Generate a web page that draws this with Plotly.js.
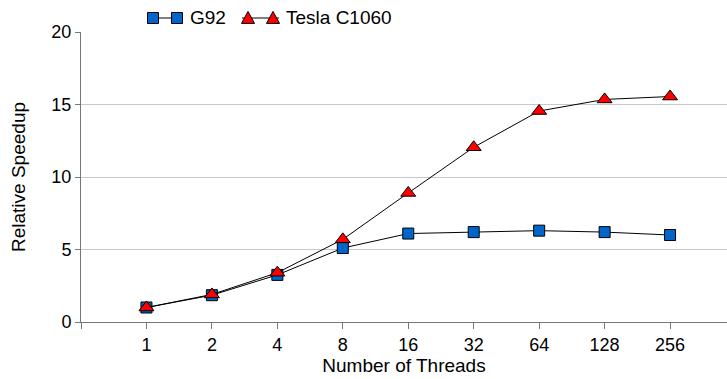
<!DOCTYPE html>
<html>
<head>
<meta charset="utf-8">
<script src="https://cdn.plot.ly/plotly-3.0.1.min.js"></script>
<style>html,body{margin:0;padding:0;background:#fff;}#chart{width:727px;height:379px;}</style>
</head>
<body>
<div id="chart"></div>
<script>
// ---- data ----
const threads = ['1', '2', '4', '8', '16', '32', '64', '128', '256'];
const g92 = [1.0, 1.85, 3.25, 5.1, 6.1, 6.2, 6.3, 6.2, 6.0];
const tesla = [1.0, 1.9, 3.4, 5.7, 8.9, 12.05, 14.55, 15.35, 15.55];
const yTicks = [0, 5, 10, 15, 20];

const xIdx = threads.map((_, i) => i);
const FONT = 'Liberation Sans, Arial, sans-serif';

// plot area in pixels (for the hand-drawn legend)
const L = 81, R = 727, T = 32, B = 322;
const px = v => (v - L) / (R - L);
const py = v => (B - v) / (B - T);

const traces = [
  {
    x: xIdx, y: g92, name: 'G92', type: 'scatter', mode: 'lines+markers',
    line: {color: '#000', width: 1},
    marker: {symbol: 'square', size: 11, color: '#0066cc', line: {color: '#000', width: 1}},
    showlegend: false
  },
  {
    x: xIdx, y: tesla, name: 'Tesla C1060', type: 'scatter', mode: 'lines+markers',
    line: {color: '#000', width: 1},
    marker: {symbol: 'triangle-up', size: 13, color: '#ff0000', line: {color: '#000', width: 1}},
    showlegend: false
  }
];

// legend drawn by hand (two markers joined by a line, like the reference)
const ly = 18;
function sq(cx, cy, h, color) {
  return {type: 'rect', xref: 'paper', yref: 'paper',
    x0: px(cx - h), x1: px(cx + h), y0: py(cy + h), y1: py(cy - h),
    fillcolor: color, line: {color: '#000', width: 1}};
}
function tri(cx, cy, w, h, color) {
  const p = `M ${px(cx - w)} ${py(cy + h * 0.45)} L ${px(cx + w)} ${py(cy + h * 0.45)} L ${px(cx)} ${py(cy - h * 0.55)} Z`;
  return {type: 'path', xref: 'paper', yref: 'paper', path: p,
    fillcolor: color, line: {color: '#000', width: 1}};
}
const shapes = [
  {type: 'line', xref: 'paper', yref: 'paper', x0: px(148), x1: px(182), y0: py(ly), y1: py(ly), line: {color: '#000', width: 1}},
  sq(153, ly, 5.5, '#0066cc'), sq(177, ly, 5.5, '#0066cc'),
  {type: 'line', xref: 'paper', yref: 'paper', x0: px(242), x1: px(279), y0: py(ly), y1: py(ly), line: {color: '#000', width: 1}},
  tri(248, ly, 6.5, 12, '#ff0000'), tri(273, ly, 6.5, 12, '#ff0000')
];
const annotations = [
  {xref: 'paper', yref: 'paper', x: px(188), y: py(ly), xanchor: 'left', yanchor: 'middle', showarrow: false,
   text: 'G92', font: {family: FONT, size: 19, color: '#000'}},
  {xref: 'paper', yref: 'paper', x: px(284), y: py(ly), xanchor: 'left', yanchor: 'middle', showarrow: false,
   text: 'Tesla C1060', font: {family: FONT, size: 19, color: '#000'}}
];

const layout = {
  width: 727, height: 379,
  margin: {l: L, r: 727 - R, t: T, b: 379 - B},
  paper_bgcolor: '#fff', plot_bgcolor: '#fff',
  showlegend: false,
  font: {family: FONT, size: 18, color: '#000'},
  xaxis: {
    range: [-1, 8.87], tickvals: [-1].concat(xIdx), ticktext: [''].concat(threads),
    showgrid: false, zeroline: false, showline: true, linecolor: '#777', linewidth: 1,
    ticks: 'outside', ticklen: 6, tickcolor: '#777',
    tickfont: {family: FONT, size: 18, color: '#000'},
    title: {text: 'Number of Threads', font: {family: FONT, size: 19, color: '#000'}, standoff: 3},
    automargin: false
  },
  yaxis: {
    range: [0, 20], tickvals: yTicks,
    showgrid: true, gridcolor: '#c8c8c8', gridwidth: 1, zeroline: false,
    showline: true, linecolor: '#777', linewidth: 1,
    ticks: 'outside', ticklen: 5, tickcolor: '#777',
    tickfont: {family: FONT, size: 18, color: '#000'},
    title: {text: 'Relative Speedup', font: {family: FONT, size: 19, color: '#000'}, standoff: 20},
    automargin: false
  },
  shapes: shapes,
  annotations: annotations
};

Plotly.newPlot('chart', traces, layout, {displayModeBar: false, staticPlot: true});
</script>
</body>
</html>
